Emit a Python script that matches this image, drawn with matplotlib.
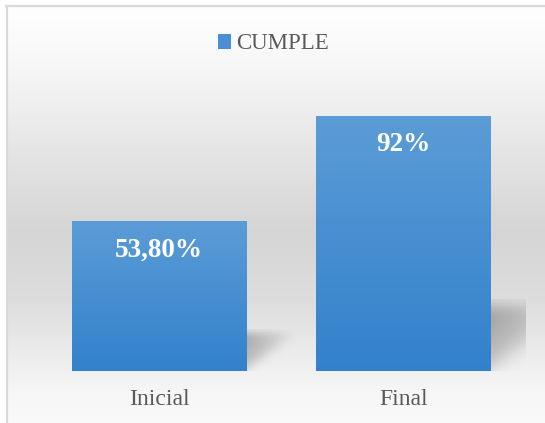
import numpy as np
import matplotlib
matplotlib.use("Agg")
import matplotlib.pyplot as plt
from matplotlib.patches import Patch

# data
categorias = ["Inicial", "Final"]
valores = [53.8, 92]
etiquetas = ["53,80%", "92%"]
serie = "CUMPLE"

plt.rcParams['font.family'] = ['Liberation Serif', 'DejaVu Serif']

W, H = 545, 423
fig = plt.figure(figsize=(W / 100, H / 100), dpi=100)

# chart background: vertical grey gradient plus the frame line
bg = fig.add_axes([0, 0, 1, 1], zorder=-1)
py = np.arange(H)
ctrl_y = [0, 6, 40, 100, 160, 230, 300, 350, 390, 423]
ctrl_g = [255, 254, 251, 240, 227, 213, 221, 235, 246, 250]
g = np.interp(py, ctrl_y, ctrl_g) / 255.0
grad = np.repeat(g[:, None], W, axis=1)
img = np.dstack([grad, grad, grad])
img[:6, :, :] = 1.0
img[:, :6, :] = 1.0
bg.imshow(img, extent=(0, W, H, 0), aspect='auto', interpolation='bilinear')
bg.plot([7, 7], [6, H], color='#d9d9d9', lw=1.6)
bg.plot([6, W], [6.5, 6.5], color='#d9d9d9', lw=1.6)
bg.set_xlim(0, W)
bg.set_ylim(H, 0)
bg.axis('off')

# plot area
ax = fig.add_axes([36.7 / W, 1 - 371 / H, (526 - 36.7) / W, (371 - 94) / H])
ax.patch.set_visible(False)
x = np.arange(len(categorias))
bars = ax.bar(x, valores, width=0.715, color='none', edgecolor='none', zorder=3)

# vertical gradient fill for each bar
top_c = np.array([91, 156, 214]) / 255
bot_c = np.array([51, 129, 204]) / 255
t = np.linspace(0, 1, 200)[:, None]
fill = top_c[None, :] * (1 - t) + bot_c[None, :] * t
fill = np.repeat(fill[:, None, :], 2, axis=1)

sig = lambda z: 1 / (1 + np.exp(-z))
for b, v in zip(bars, valores):
    x0, w, h = b.get_x(), b.get_width(), b.get_height()
    ax.imshow(fill, extent=(x0, x0 + w, 0, h), aspect='auto', zorder=3,
              interpolation='bilinear')

    # soft perspective shadow behind the lower right corner
    L = 0.0038 * v
    sh = 0.28 * v
    u = np.linspace(0, 1, 150)[None, :]
    tt = np.linspace(0, 1, 150)[:, None]
    a = 0.3 * sig((tt - 0.85 * u - 0.04) / 0.09) * sig((0.9 - tt) / 0.06)
    a = a * (1 - u) ** 0.9 * (0.6 + 0.4 * tt)
    rgba = np.zeros((150, 150, 4))
    rgba[..., 3] = a
    ax.imshow(rgba, extent=(x0 + w, x0 + w + L, 0, sh), origin='lower',
              aspect='auto', zorder=2, interpolation='bilinear')

for xi, v, lab in zip(x, valores, etiquetas):
    ax.annotate(lab, xy=(xi, v), xytext=(0, -28), textcoords='offset pixels',
                ha='center', va='center', color='white', fontsize=19.5,
                fontweight='bold', zorder=4)

ax.set_xlim(-0.5, 1.5)
ax.set_ylim(0, 100)
ax.set_xticks(x)
ax.set_xticklabels(categorias, fontsize=17, color='#595959')
ax.tick_params(axis='x', length=0, pad=13)
ax.set_yticks([])
for s in ax.spines.values():
    s.set_visible(False)

fig.legend(handles=[Patch(facecolor='#4a8fd3', edgecolor='none', label=serie)],
           loc='center', bbox_to_anchor=(0.502, 0.896), frameon=False,
           fontsize=16.5, handlelength=0.55, handleheight=0.65,
           handletextpad=0.25, labelcolor='#595959')

fig.savefig("out.png", dpi=100)
